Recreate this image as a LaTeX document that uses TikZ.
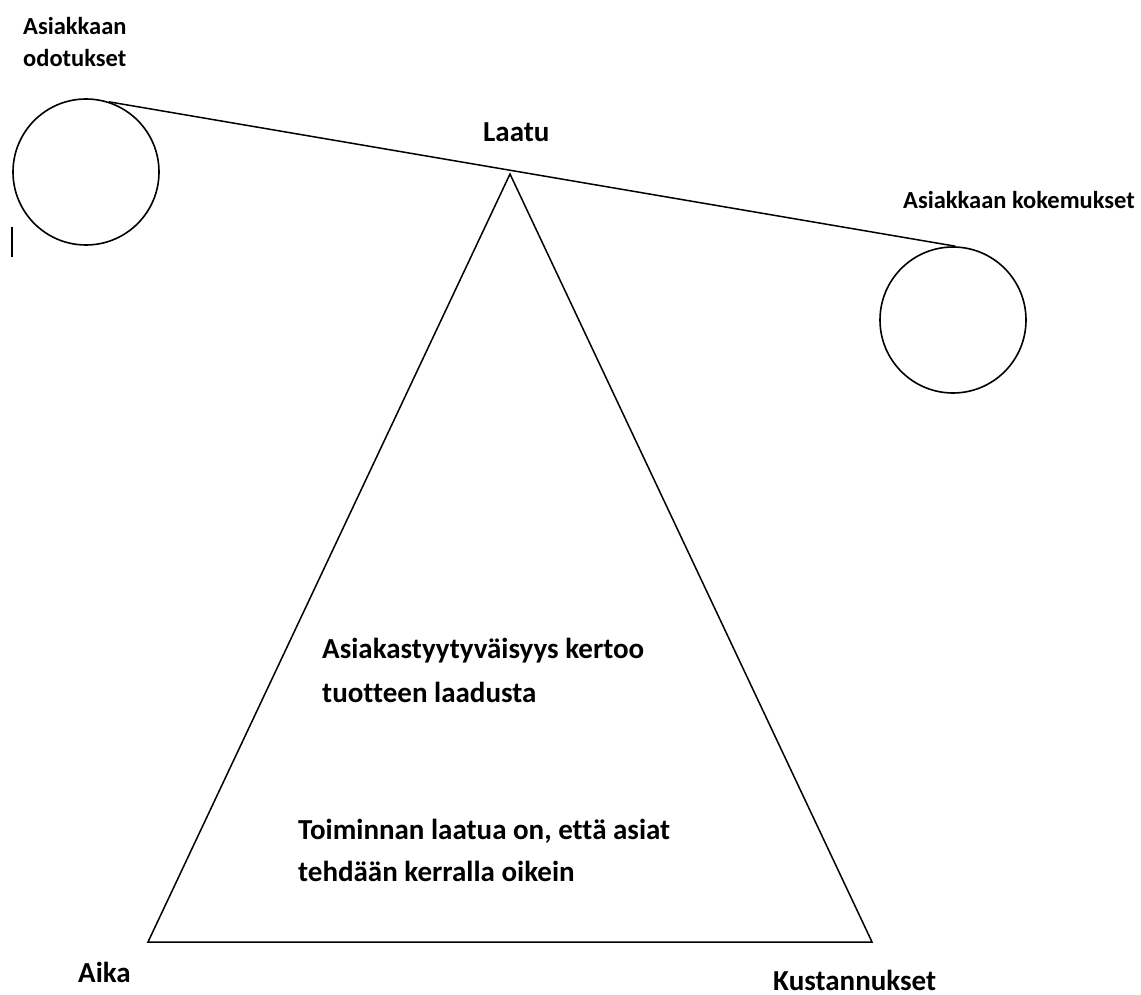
\documentclass[tikz,border=0pt]{standalone}
\usepackage{fontspec}
\setmainfont{Carlito}[Ligatures=NoCommon]
\begin{document}
\begin{tikzpicture}[x=1pt,y=-1pt,
  lbl/.style={anchor=base west,inner sep=0pt,font=\bfseries\fontsize{24.5}{32}\selectfont},
  big/.style={anchor=base west,inner sep=0pt,font=\bfseries\fontsize{29}{35}\selectfont},
  pan/.style={circle,draw,line width=1.6pt,minimum size=146pt,inner sep=0pt},
  ln/.style={line width=1.5pt}]
\useasboundingbox (0,0) rectangle (1141,995);
% pans
\node[pan] (lc) at (86,172) {};
\node[pan] (rc) at (953,320) {};
% triangle
\coordinate (apex) at (510,174);
\coordinate (bl) at (148,942);
\coordinate (br) at (872,942);
\draw[ln,line join=miter] (apex) -- (br) -- (bl) -- cycle;
% beam
\draw[ln] (lc.72) -- (rc.88);
% cursor mark
\coordinate (c1) at (12,227);
\coordinate (c2) at (12,257);
\draw[line width=1.3pt] (c1) -- (c2);
% labels
\node[lbl] (ao1) at (23,35) {Asiakkaan};
\node[lbl] (ao2) at (23,67) {odotukset};
\node[big] (laatu) at (483,142) {Laatu};
\node[lbl] (ak) at (903,209) {Asiakkaan kokemukset};
\node[big] (t1a) at (322,658) {Asiakastyytyväisyys kertoo};
\node[big] (t1b) at (322,702) {tuotteen laadusta};
\node[big] (t2a) at (298,839) {Toiminnan laatua on, että asiat};
\node[big] (t2b) at (298,881) {tehdään kerralla oikein};
\node[big] (aika) at (78,982) {Aika};
\node[big] (kust) at (773,990) {Kustannukset};
\end{tikzpicture}
\end{document}
